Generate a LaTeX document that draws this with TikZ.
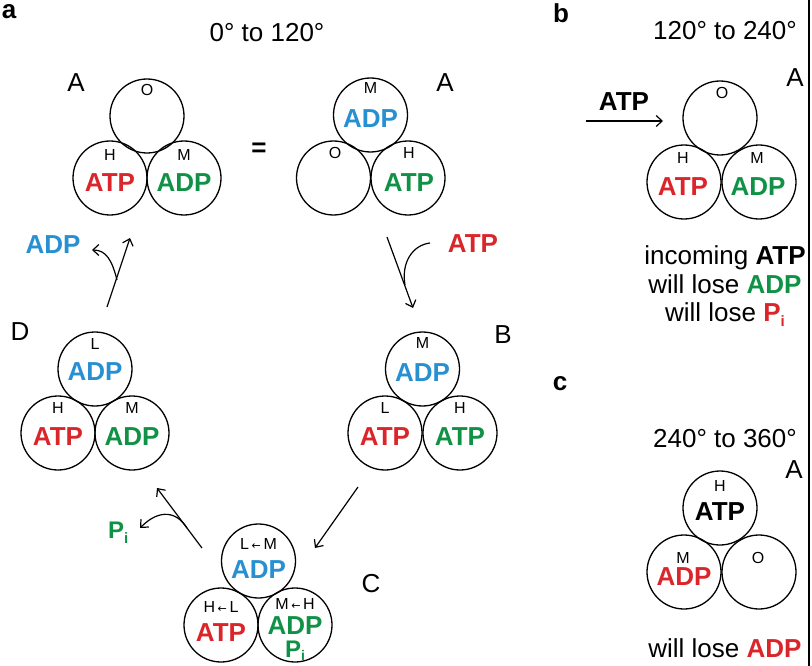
\documentclass[tikz,border=0pt]{standalone}
\usepackage{fontspec}
\setmainfont{Liberation Sans}
\newfontfamily\dejavu{DejaVu Sans}
\usetikzlibrary{arrows.meta}
\definecolor{rd}{RGB}{218,37,42}
\definecolor{bl}{RGB}{40,144,208}
\definecolor{gn}{RGB}{16,146,70}
\newcommand{\subi}{\raisebox{-5pt}{\fontsize{15}{15}\selectfont i}}
\newcommand{\subii}{\raisebox{-3pt}{\fontsize{14}{14}\selectfont i}}
\newcommand{\la}{\,{\dejavu\fontsize{11}{11}\selectfont ←}\,}
\begin{document}
\begin{tikzpicture}[x=1pt,y=-1pt,
  cir/.style={circle,draw,line width=1.3pt,minimum size=74pt,inner sep=0pt},
  big/.style={inner sep=0pt,font=\fontsize{26}{28}\selectfont\bfseries},
  sm/.style={inner sep=0pt,font=\fontsize{16}{16}\selectfont},
  grp/.style={inner sep=0pt,font=\fontsize{26}{26}\selectfont},
  head/.style={inner sep=0pt,anchor=base,font=\fontsize{26}{30}\selectfont},
  panel/.style={inner sep=0pt,anchor=base,font=\fontsize{26}{26}\selectfont\bfseries},
  arr/.style={line width=1.2pt,-{Straight Barb[length=6pt,width=11pt]}}]
\useasboundingbox (0,0) rectangle (812,666);
\draw[line width=1.4pt] (809,0) -- (809,666);

% panel letters and headings
\node[panel] (pa) at (9,19) {a};
\node[panel] (pb) at (561,23) {b};
\node[panel] (pc) at (560,390) {c};
\node[head] (h1) at (267,42) {0° to 120°};
\node[head] (h2) at (725,40) {120° to 240°};
\node[head] (h3) at (725,447) {240° to 360°};

% ---- A (left)
\node[cir] (a1t) at (147,116) {};
\node[cir] (a1l) at (110,178) {};
\node[cir] (a1r) at (184,178) {};
\node[sm] (a1ts) at (147,90) {O};
\node[sm] (a1ls) at (110,155) {H};
\node[big,rd] (a1lt) at (110,183) {ATP};
\node[sm] (a1rs) at (184,155) {M};
\node[big,gn] (a1rt) at (184,183) {ADP};
\node[grp] (a1lab) at (76,83) {A};
\node[big] (eq) at (259,150) {=};

% ---- A (right)
\node[cir] (a2t) at (370.5,115) {};
\node[cir] (a2l) at (333.5,178) {};
\node[cir] (a2r) at (408,178) {};
\node[sm] (a2ts) at (370.5,88) {M};
\node[big,bl] (a2tt) at (370.5,119) {ADP};
\node[sm] (a2ls) at (335,153) {O};
\node[sm] (a2rs) at (409,153) {H};
\node[big,gn] (a2rt) at (409,183) {ATP};
\node[grp] (a2lab) at (445,83) {A};

% ---- B
\node[cir] (bt) at (422.5,369) {};
\node[cir] (bl) at (385,433) {};
\node[cir] (br) at (460,433) {};
\node[sm] (bts) at (422.5,343) {M};
\node[big,bl] (btt) at (422.5,373) {ADP};
\node[sm] (bls) at (385,408) {L};
\node[big,rd] (blt) at (385,437) {ATP};
\node[sm] (brs) at (460,408) {H};
\node[big,gn] (brt) at (460,437) {ATP};
\node[grp] (blab) at (503,335) {B};

% ---- D
\node[cir] (dt) at (95,369) {};
\node[cir] (dl) at (58,433) {};
\node[cir] (dr) at (132,433) {};
\node[sm] (dts) at (95,344) {L};
\node[big,bl] (dtt) at (95,372) {ADP};
\node[sm] (dls) at (58,408) {H};
\node[big,rd] (dlt) at (58,437) {ATP};
\node[sm] (drs) at (132,408) {M};
\node[big,gn] (drt) at (132,437) {ADP};
\node[grp] (dlab) at (20,332) {D};

% ---- C
\node[cir] (ct) at (258.5,561) {};
\node[cir] (cl) at (221,625) {};
\node[cir] (cr) at (295,625) {};
\node[sm] (cts) at (258.5,544) {L\la M};
\node[big,bl] (ctt) at (258.5,570) {ADP};
\node[sm] (cls) at (221,607) {H\la L};
\node[big,rd] (clt) at (221,633) {ATP};
\node[sm] (crs) at (295,604) {M\la H};
\node[big,gn] (crt) at (295,626) {ADP};
\node[inner sep=0pt,gn,anchor=base west,font=\fontsize{24}{24}\selectfont\bfseries] (crp) at (285,657) {P\subii};
\node[grp] (clab) at (371,584) {C};

% ---- panel b
\node[cir] (pbt) at (720,118) {};
\node[cir] (pbl) at (684,182) {};
\node[cir] (pbr) at (759,182) {};
\node[sm] (pbts) at (722,93) {O};
\node[sm] (pbls) at (683,158) {H};
\node[big,rd] (pblt) at (683,187) {ATP};
\node[sm] (pbrs) at (757,158) {M};
\node[big,gn] (pbrt) at (758,187) {ADP};
\node[grp] (pblab) at (795,78) {A};
\node[big] (pbatp) at (624,102) {ATP};
\coordinate (pbs) at (586,121);
\coordinate (pbe) at (663,121);
\draw[arr] (pbs) -- (pbe);
\node[head] (pbx1) at (725,264) {incoming \textbf{ATP}};
\node[head] (pbx2) at (725,293) {will lose {\color{gn}\bfseries ADP}};
\node[head] (pbx3) at (725,321) {will lose {\color{rd}\bfseries P\subi}};

% ---- panel c
\node[cir] (pct) at (720,508) {};
\node[cir] (pcl) at (684,572) {};
\node[cir] (pcr) at (759,572) {};
\node[sm] (pcts) at (720,486) {H};
\node[big] (pctt) at (720,512) {ATP};
\node[sm] (pcls) at (683,558) {M};
\node[big,rd] (pclt) at (684,577) {ADP};
\node[sm] (pcrs) at (758,558) {O};
\node[grp] (pclab) at (794,470) {A};
\node[head] (pcx) at (725,657) {will lose {\color{rd}\bfseries ADP}};

% ---- cycle arrows
\coordinate (ab1) at (387,237);
\coordinate (ab2) at (413,308);
\coordinate (abm) at (405,285);
\coordinate (atps) at (430,243);
\draw[arr] (ab1) -- (ab2);
\draw[line width=1.2pt] (atps) .. controls (413,245) and (401,262) .. (abm);
\node[big,rd] (atplab) at (473,244) {ATP};

\coordinate (bc1) at (358,487);
\coordinate (bc2) at (315,548);
\draw[arr] (bc1) -- (bc2);

\coordinate (cd1) at (202,548);
\coordinate (cd2) at (157,488);
\coordinate (cdm) at (187,528);
\coordinate (cdp) at (140,528);
\draw[arr] (cd1) -- (cd2);
\draw[arr] (cdm) .. controls (177,512) and (160,508) .. (cdp);
\node[inner sep=0pt,gn,anchor=base west,font=\fontsize{24}{24}\selectfont\bfseries] (pilab) at (108,538) {P\subi};

\coordinate (da1) at (107,307);
\coordinate (da2) at (130,238);
\coordinate (dam) at (117,280);
\coordinate (dap) at (92,250);
\draw[arr] (da1) -- (da2);
\draw[arr] (dam) .. controls (112,260) and (106,250) .. (dap);
\node[big,bl] (adplab) at (53,245) {ADP};
\end{tikzpicture}
\end{document}
